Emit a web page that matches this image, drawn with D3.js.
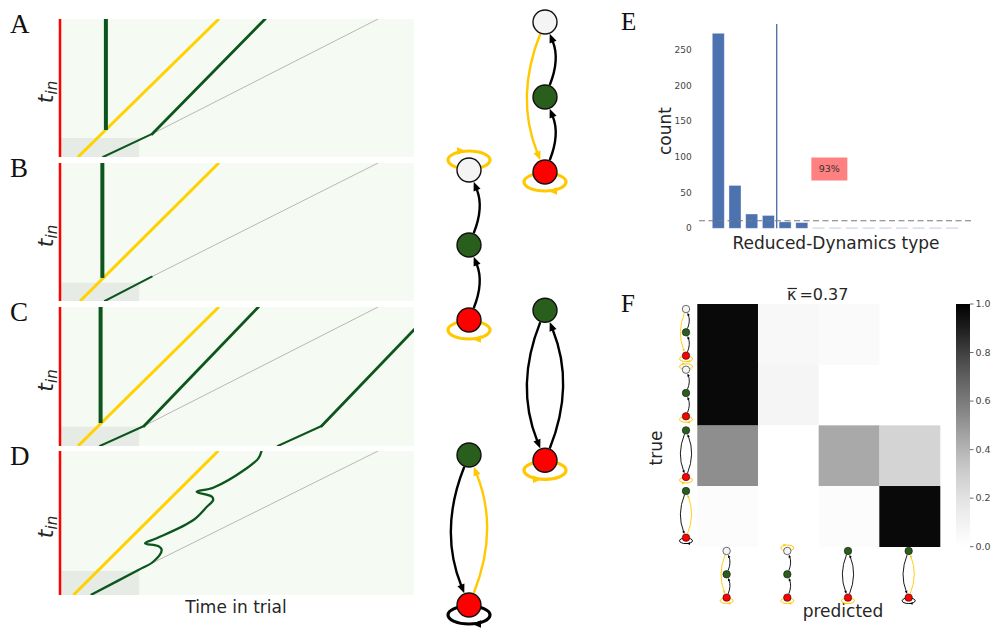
<!DOCTYPE html>
<html><head><meta charset="utf-8">
<script src="https://cdn.jsdelivr.net/npm/d3@7"></script>
<style>body{margin:0;background:#fff} svg{display:block}</style>
</head><body>
<svg id="fig" width="995" height="629"></svg>
<script>
// ================= DATA =================
// Panels A-D: time in trial (0-100) vs t_in (0-100)
const panelLabels = ["A", "B", "C", "D"];
const yellowLines = [
  [[5.1, 0], [45.0, 100]],
  [[5.7, 0], [45.0, 100]],
  [[5.1, 0], [45.0, 100]],
  [[3.8, 0], [44.8, 100]]
];
const verticalLines = [
  [[13.0, 19.6], [13.0, 100]],
  [[12.0, 16.7], [12.0, 100]],
  [[11.5, 16.5], [11.5, 100]],
  []
];
const greenLines = [
  [[[12.2, 0], [26.1, 16.7], [58.1, 100]]],
  [[[12.7, 0], [26.0, 17.6]]],
  [[[11.3, 0], [23.8, 14.4], [56.2, 100]], [[61.7, 0], [74.1, 14.4], [106.5, 100]]],
  []
];
const greenCurveD = [[8.7, 0], [22.2, 17.4], [26.4, 23.1], [28.8, 31.3], [27.8, 34.0], [24.1, 35.9],
  [27.4, 39.4], [37.8, 52.1], [41.6, 61.3], [43.4, 66.0], [43.0, 68.3], [38.7, 71.7], [43.4, 74.5],
  [52.9, 88.0], [56.2, 94.9], [57.1, 100]];
const grayLines = [
  [[26.1, 16.7], [90.1, 100]],
  [[26.0, 17.6], [90.1, 100]],
  [[23.8, 14.4], [90.1, 100]],
  [[22.2, 17.4], [90.1, 100]]
];
const boxExtents = [[22.4, 13.8], [22.4, 13.3], [22.4, 13.9], [22.4, 16.7]];

// Reduced-dynamics graphs (nodes listed top to bottom)
const graphNodes = {
  A: ["white", "green", "red"],
  B: ["white", "green", "red"],
  C: ["green", "red"],
  D: ["green", "red"]
};
const graphEdges = {
  A: [[2, 1, "black"], [1, 0, "black"], [0, 2, "yellow"]],
  B: [[2, 1, "black"], [1, 0, "black"]],
  C: [[0, 1, "black"], [1, 0, "black"]],
  D: [[0, 1, "black"], [1, 0, "yellow"]]
};
const graphLoops = {
  A: [[2, "yellow", "below", "cw"]],
  B: [[0, "yellow", "above", "cw"], [2, "yellow", "below", "cw"]],
  C: [[1, "yellow", "below", "ccw"]],
  D: [[1, "black", "below", "cw"]]
};

// Panel E
const typeIndex = d3.range(15);
const typeCounts = [273, 60, 20, 18, 9, 8, 0.7, 0.7, 0.7, 0.7, 0.7, 0.7, 0.7, 0.7, 0.7];
const countTicks = [0, 50, 100, 150, 200, 250];
const cutoffIndex = 4;
const chanceCount = 10.6;
const coverageLabel = "93%";
const coveragePos = [6.65, 83];

// Panel F
const confKeys = ["A", "B", "C", "D"];
const confValues = [
  [0.97, 0.06, 0.045, 0.0],
  [0.97, 0.08, 0.0, 0.0],
  [0.53, 0.0, 0.44, 0.27],
  [0.025, 0.0, 0.025, 0.97]
];
const colorbarTicks = [0.0, 0.2, 0.4, 0.6, 0.8, 1.0];
const kappaText = "=0.37";

// ================= STYLE / LAYOUT =================
const YEL_LINE = "#ffd200", YEL_EDGE = "#ffc800", GREEN_LINE = "#0c561d";
const NODE_FILL = { white: "#f4f4f4", green: "#2a5e1c", red: "#ff0000" };
const TXT = "#262626";
const SANS = "DejaVu Sans, sans-serif";
const SERIF = "Liberation Serif, DejaVu Serif, serif";

const svg = d3.select("#fig");

// ---------- Panels A-D ----------
const panelExt = [[19, 157], [163, 301], [307, 446], [451, 595]];
const x = d3.scaleLinear().domain([0, 100]).range([60, 413]);
const defs = svg.append("defs");

panelLabels.forEach((lab, i) => {
  const [top, bot] = panelExt[i];
  const y = d3.scaleLinear().domain([0, 100]).range([bot, top]);
  const g = svg.append("g");
  const cid = "clip" + i;
  defs.append("clipPath").attr("id", cid).append("rect")
    .attr("x", x(0)).attr("y", top).attr("width", x(100) - x(0) + 1).attr("height", bot - top);
  g.append("rect").attr("x", x(0)).attr("y", top).attr("width", x(100) - x(0) + 1)
    .attr("height", bot - top).attr("fill", "#f5faf2");
  const inner = g.append("g").attr("clip-path", `url(#${cid})`);
  const [bw, bh] = boxExtents[i];
  inner.append("rect").attr("x", x(0)).attr("y", y(bh)).attr("width", x(bw) - x(0))
    .attr("height", y(0) - y(bh)).attr("fill", "#e7ebe5");
  const line = d3.line().x(d => x(d[0])).y(d => y(d[1]));
  inner.append("path").attr("d", line(grayLines[i])).attr("stroke", "#b8b8b8")
    .attr("stroke-width", 1).attr("fill", "none");
  inner.append("path").attr("d", line(yellowLines[i])).attr("stroke", YEL_LINE)
    .attr("stroke-width", 3).attr("fill", "none");
  if (verticalLines[i].length)
    inner.append("path").attr("d", line(verticalLines[i])).attr("stroke", GREEN_LINE)
      .attr("stroke-width", 4).attr("fill", "none");
  greenLines[i].forEach(pts => {
    for (let k = 0; k < pts.length - 1; k++) {
      inner.append("path").attr("d", line([pts[k], pts[k + 1]])).attr("stroke", GREEN_LINE)
        .attr("stroke-width", k === 0 ? 2 : 2.8).attr("fill", "none").attr("stroke-linecap", "round");
    }
  });
  if (i === 3) {
    const curve = d3.line().x(d => x(d[0])).y(d => y(d[1])).curve(d3.curveCatmullRom.alpha(0.5));
    inner.append("path").attr("d", curve(greenCurveD)).attr("stroke", GREEN_LINE)
      .attr("stroke-width", 2.3).attr("fill", "none");
  }
  g.append("line").attr("x1", x(0)).attr("x2", x(0)).attr("y1", top).attr("y2", bot)
    .attr("stroke", "#ff0000").attr("stroke-width", 2.5);
  // y label t_in
  const t = g.append("text").attr("transform", `translate(53,${(top + bot) / 2 + 4}) rotate(-90)`)
    .attr("text-anchor", "middle").attr("font-family", SANS).attr("font-style", "italic")
    .attr("fill", TXT).attr("font-size", 22);
  t.append("tspan").text("t");
  t.append("tspan").attr("font-size", 15).attr("dy", 4).text("in");
  // panel letter
  g.append("text").attr("x", 10).attr("y", top + 14 + (i === 0 ? 0 : 0)).attr("font-family", SERIF)
    .attr("font-size", 27).attr("fill", "#111").text(lab);
});
svg.append("text").attr("x", 236).attr("y", 613).attr("text-anchor", "middle")
  .attr("font-family", SANS).attr("font-size", 17).attr("fill", TXT).text("Time in trial");

// ---------- Graph drawing ----------
function unitVec(a, b) { const dx = b.x - a.x, dy = b.y - a.y, L = Math.hypot(dx, dy); return { x: dx / L, y: dy / L }; }
function drawGraph(sel, key, cx, cy, unit, s) {
  const names = graphNodes[key], n = names.length;
  const pos = names.map((c, i) => ({ x: cx, y: cy + unit * (-1 + 2 * i / (n - 1)), c }));
  const r = 12 * s;
  const ew = Math.max(2.4 * s, 0.9), lw = Math.max(3.2 * s, 1.0), nw = Math.max(1.4 * s, 0.6);
  const al = Math.max(9 * s, 3.0), aw = Math.max(7.5 * s, 2.6);
  const col = k => k === "yellow" ? YEL_EDGE : "#000";
  const g = sel.append("g");
  graphLoops[key].forEach(([ni, c, side, rot]) => {
    const p = pos[ni], sg = side === "below" ? 1 : -1;
    const ecy = p.y + sg * 10 * s, rx = 21 * s, ry = 9 * s;
    g.append("ellipse").attr("cx", p.x).attr("cy", ecy).attr("rx", rx).attr("ry", ry)
      .attr("fill", "none").attr("stroke", col(c)).attr("stroke-width", lw);
    const dir = ((side === "below") === (rot === "cw")) ? -1 : 1;
    const tx = p.x - dir * 3 * s, ty = ecy + sg * ry;
    g.append("path").attr("d", `M${tx},${ty}L${tx - dir * al},${ty - aw / 2}L${tx - dir * al},${ty + aw / 2}Z`)
      .attr("fill", col(c));
  });
  graphEdges[key].forEach(([a, b, c]) => {
    const P0 = pos[a], P2 = pos[b];
    const dx = P2.x - P0.x, dy = P2.y - P0.y;
    const C = { x: (P0.x + P2.x) / 2 - 0.2 * dy, y: (P0.y + P2.y) / 2 + 0.2 * dx };
    const u0 = unitVec(P0, C), u2 = unitVec(P2, C);
    const S = { x: P0.x + u0.x * (r + nw / 2), y: P0.y + u0.y * (r + nw / 2) };
    const E = { x: P2.x + u2.x * (r + nw / 2), y: P2.y + u2.y * (r + nw / 2) };
    const d = unitVec(C, E);
    const B = { x: E.x - d.x * al, y: E.y - d.y * al };
    g.append("path").attr("d", `M${S.x},${S.y}Q${C.x},${C.y} ${B.x + d.x * 0.8},${B.y + d.y * 0.8}`)
      .attr("fill", "none").attr("stroke", col(c)).attr("stroke-width", ew);
    const px = -d.y, py = d.x;
    g.append("path").attr("d", `M${E.x},${E.y}L${B.x + px * aw / 2},${B.y + py * aw / 2}L${B.x - px * aw / 2},${B.y - py * aw / 2}Z`)
      .attr("fill", col(c));
  });
  pos.forEach(p => {
    g.append("circle").attr("cx", p.x).attr("cy", p.y).attr("r", r)
      .attr("fill", NODE_FILL[p.c]).attr("stroke", "#111").attr("stroke-width", nw);
  });
}
const bigGraphs = [["A", 545, 97], ["B", 469, 245], ["C", 545, 385.3], ["D", 469, 530]];
bigGraphs.forEach(([k, gx, gy]) => drawGraph(svg, k, gx, gy, 75, 1));

// ---------- Panel E ----------
const ex = d3.scaleBand().domain(typeIndex).range([707.6, 962.8]).paddingInner(0.28).paddingOuter(0.28);
const ey = d3.scaleLinear().domain([0, 286]).range([228.3, 24]);
const gE = svg.append("g");
gE.selectAll("rect.bar").data(typeIndex).join("rect").attr("class", "bar")
  .attr("x", d => ex(d)).attr("width", ex.bandwidth())
  .attr("y", d => ey(typeCounts[d])).attr("height", d => ey(0) - ey(typeCounts[d]))
  .attr("fill", "#4c72b0").attr("stroke", "rgba(255,255,255,0.45)").attr("stroke-width", 0.8);
gE.selectAll("text.tick").data(countTicks).join("text").attr("class", "tick")
  .attr("x", 691.7).attr("y", d => ey(d)).attr("dy", "0.35em").attr("text-anchor", "end")
  .attr("font-family", SANS).attr("font-size", 9).attr("fill", "#444").text(d => d);
const cutX = ex(cutoffIndex) - ex.step() * ex.paddingInner() / 2;
gE.append("line").attr("x1", cutX).attr("x2", cutX).attr("y1", ey(286)).attr("y2", ey(0))
  .attr("stroke", "#3d5a9c").attr("stroke-width", 1.2);
gE.append("line").attr("x1", 699).attr("x2", 973).attr("y1", ey(chanceCount)).attr("y2", ey(chanceCount))
  .attr("stroke", "#7a7a7a").attr("stroke-width", 1.2).attr("stroke-dasharray", "6,3.5");
const annX = ex(0) + ex.bandwidth() / 2 + coveragePos[0] * ex.step(), annY = ey(coveragePos[1]);
gE.append("rect").attr("x", annX - 18).attr("y", annY - 11.5).attr("width", 36).attr("height", 23)
  .attr("fill", "#ff8080");
gE.append("text").attr("x", annX).attr("y", annY).attr("dy", "0.35em").attr("text-anchor", "middle")
  .attr("font-family", SANS).attr("font-size", 9.5).attr("fill", "#333").text(coverageLabel);
gE.append("text").attr("transform", "translate(671,131) rotate(-90)").attr("text-anchor", "middle")
  .attr("font-family", SANS).attr("font-size", 17).attr("fill", TXT).text("count");
gE.append("text").attr("x", 836).attr("y", 249).attr("text-anchor", "middle")
  .attr("font-family", SANS).attr("font-size", 17).attr("fill", TXT).text("Reduced-Dynamics type");
svg.append("text").attr("x", 621).attr("y", 30).attr("font-family", SERIF).attr("font-size", 25)
  .attr("fill", "#111").text("E");

// ---------- Panel F ----------
const fx = d3.scaleBand().domain(d3.range(4)).range([697.3, 940]);
const fy = d3.scaleBand().domain(d3.range(4)).range([304, 546.7]);
const gF = svg.append("g");
confValues.forEach((row, ri) => row.forEach((v, ci) => {
  gF.append("rect").attr("x", fx(ci)).attr("y", fy(ri)).attr("width", fx.bandwidth() + 0.3)
    .attr("height", fy.bandwidth() + 0.3).attr("fill", d3.interpolateGreys(v));
}));
// colorbar
const cb = d3.scaleLinear().domain([0, 1]).range([546.7, 304]);
const grad = defs.append("linearGradient").attr("id", "cbgrad").attr("x1", 0).attr("y1", 1).attr("x2", 0).attr("y2", 0);
d3.range(0, 1.0001, 0.05).forEach(t => grad.append("stop").attr("offset", t).attr("stop-color", d3.interpolateGreys(t)));
gF.append("rect").attr("x", 956).attr("y", cb(1)).attr("width", 14).attr("height", cb(0) - cb(1)).attr("fill", "url(#cbgrad)");
colorbarTicks.forEach(t => {
  gF.append("line").attr("x1", 970).attr("x2", 973.5).attr("y1", cb(t)).attr("y2", cb(t)).attr("stroke", "#444").attr("stroke-width", 0.8);
  gF.append("text").attr("x", 975.5).attr("y", cb(t)).attr("dy", "0.35em").attr("font-family", SANS)
    .attr("font-size", 9.5).attr("fill", "#444").text(t.toFixed(1));
});
// title with kappa bar
const title = gF.append("text").attr("x", 787).attr("y", 300).attr("font-family", SANS).attr("font-size", 16).attr("fill", TXT);
title.append("tspan").text("\u03ba");
title.append("tspan").attr("dx", 3).text(kappaText);
const kw = title.node().getSubStringLength(0, 1);
gF.append("line").attr("x1", 787 + 0.5).attr("x2", 787 + kw + 0.5).attr("y1", 288.5).attr("y2", 288.5)
  .attr("stroke", TXT).attr("stroke-width", 1.2);
gF.append("text").attr("transform", "translate(662,448) rotate(-90)").attr("text-anchor", "middle")
  .attr("font-family", SANS).attr("font-size", 17).attr("fill", TXT).text("true");
gF.append("text").attr("x", 843).attr("y", 617).attr("text-anchor", "middle")
  .attr("font-family", SANS).attr("font-size", 17).attr("fill", TXT).text("predicted");
// icons
const s = 0.311;
confKeys.forEach((k, i) => {
  drawGraph(gF, k, 686, fy(i) + fy.bandwidth() / 2 - 2, 75 * s, s);
  drawGraph(gF, k, fx(i) + fx.bandwidth() / 2 - 1, 574.3, 75 * s, s);
});
svg.append("text").attr("x", 621).attr("y", 312).attr("font-family", SERIF).attr("font-size", 25)
  .attr("fill", "#111").text("F");
</script>
</body></html>
